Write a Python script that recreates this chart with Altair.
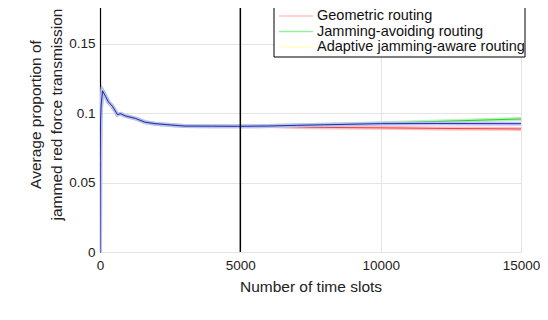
import altair as alt
import pandas as pd

# time slots and values
common_t = [0, 10, 20, 40, 90, 200, 300, 440, 620, 740, 900, 1260, 1600, 1960, 2500, 3000, 4000, 4900, 5500, 6000]
common_v = [0.0, 0.066, 0.095, 0.105, 0.116, 0.112, 0.108, 0.105, 0.099, 0.0995, 0.098, 0.0962, 0.0935, 0.0924, 0.0915, 0.0907, 0.0906, 0.0905, 0.0906, 0.0907]

tail_t = [7000, 8000, 10000, 12000, 15000]
geo_tail = [0.0900, 0.0897, 0.0894, 0.0890, 0.0886]
avoid_tail = [0.0912, 0.0917, 0.0927, 0.0940, 0.0958]
adapt_tail = [0.0912, 0.0916, 0.0924, 0.0925, 0.0924]

series_names = ["Geometric routing", "Jamming-avoiding routing", "Adaptive jamming-aware routing"]
legend_colors = ["#ffc4c4", "#9cee9c", "#ffffc8"]
band_colors = ["#ffb0b0", "#a8f0a8", "#b8b8ff"]
line_colors = ["#e03030", "#20c020", "#1010a0"]

x_ticks = [0, 5000, 10000, 15000]
y_ticks = [0, 0.05, 0.1, 0.15]
marker_t = [5000]

caption = "4.  Average proportion of jammed red force and"

tails = [geo_tail, avoid_tail, adapt_tail]
frames = []
for name, tail in zip(series_names, tails):
    frames.append(pd.DataFrame({"t": common_t + tail_t, "v": common_v + tail, "s": name}))

xs = alt.Scale(domain=[0, 15000], nice=False)
ys = alt.Scale(domain=[0, 0.18], nice=False)
FONT = "Liberation Sans"

xaxis = alt.Axis(values=x_ticks, format="d", title="Number of time slots", grid=True, domain=False, ticks=False,
                 labelFont=FONT, labelFontSize=13.5, labelColor="#222", labelPadding=6, labelFlush=False,
                 titleFont=FONT, titleFontSize=15.5, titleFontWeight="normal", titleColor="#222", titlePadding=8,
                 gridColor="#e4e4e4")
yaxis = alt.Axis(values=y_ticks, title=["Average proportion of", "jammed red force transmission"],
                 format="~g", grid=True, domain=True, domainColor="#000", domainWidth=1.2, ticks=False,
                 labelFont=FONT, labelFontSize=13.5, labelColor="#222", labelPadding=5, labelFlush=False,
                 titleFont=FONT, titleFontSize=15.5, titleFontWeight="normal", titleColor="#222",
                 titlePadding=4, titleLineHeight=21, titleY=112, gridColor="#e4e4e4")

layers = []
for i, df in enumerate(frames):
    band = alt.Chart(df).mark_line(strokeWidth=4, opacity=0.8, color=band_colors[i], clip=True).encode(
        x=alt.X("t:Q", scale=xs, axis=xaxis),
        y=alt.Y("v:Q", scale=ys, axis=yaxis),
    )
    core = alt.Chart(df).mark_line(strokeWidth=1, color=line_colors[i], opacity=0.85, clip=True).encode(
        x=alt.X("t:Q", scale=xs, axis=xaxis), y=alt.Y("v:Q", scale=ys, axis=yaxis)
    )
    layers += [band, core]

rule = alt.Chart(pd.DataFrame({"t": marker_t})).mark_rule(color="black", strokeWidth=1.5).encode(
    x=alt.X("t:Q", scale=xs, axis=xaxis)
)
layers.append(rule)

# legend box
box = alt.Chart(pd.DataFrame({"a": [0]})).mark_rect(fill="white", stroke="black", strokeWidth=1).encode(
    x=alt.value(174), x2=alt.value(425), y=alt.value(2), y2=alt.value(55)
)
layers.append(box)
rows_y = [14, 29.5, 45]
for name, col, yy in zip(series_names, legend_colors, rows_y):
    ln = alt.Chart(pd.DataFrame({"a": [0]})).mark_rule(color=col, strokeWidth=1.5).encode(
        x=alt.value(179), x2=alt.value(213), y=alt.value(yy)
    )
    tx = alt.Chart(pd.DataFrame({"label": [name]})).mark_text(
        align="left", baseline="middle", font=FONT, fontSize=14.5, color="#111"
    ).encode(x=alt.value(217), y=alt.value(yy), text="label:N")
    layers += [ln, tx]

cap = alt.Chart(pd.DataFrame({"label": [caption]})).mark_text(
    align="left", baseline="top", font="Liberation Serif", fontSize=22, color="#111"
).encode(x=alt.value(-100), y=alt.value(313), text="label:N")
layers.append(cap)

chart = alt.layer(*layers).properties(
    width=421, height=250,
    autosize=alt.AutoSizeParams(type="none"),
    padding={"left": 92, "top": -6, "right": 19, "bottom": 60},
).configure_view(stroke=None)

chart.save("out.html", embed_options={"renderer": "svg", "actions": False})
